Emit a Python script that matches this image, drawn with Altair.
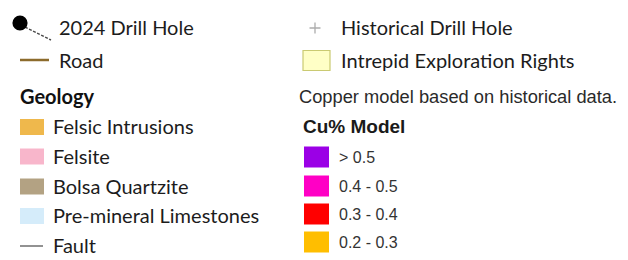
import altair as alt
import pandas as pd

# ---- content ----
top_left_labels = ["2024 Drill Hole", "Road"]
geology_title = "Geology"
geology_labels = ["Felsic Intrusions", "Felsite", "Bolsa Quartzite", "Pre-mineral Limestones", "Fault"]
geology_colors = ["#EFB84C", "#F8B6CB", "#B3A283", "#D5ECFA"]
top_right_labels = ["Historical Drill Hole", "Intrepid Exploration Rights"]
note_text = "Copper model based on historical data."
cu_title = "Cu% Model"
cu_labels = ["> 0.5", "0.4 - 0.5", "0.3 - 0.4", "0.2 - 0.3"]
cu_colors = ["#9B00E6", "#FF00C5", "#FF0000", "#FFBE00"]

# ---- layout (page pixel coordinates) ----
W, H = 612, 250
XS = alt.Scale(domain=[8, 8 + W], range=[0, W], nice=False, zero=False)
YS = alt.Scale(domain=[8, 8 + H], range=[0, H], nice=False, zero=False)

CAL = "Lato"
CAL_SIZE = 20
CAL_CAP = 0.7165 * CAL_SIZE
ARIAL = "Liberation Sans"

left_rows = [127, 156.5, 186.5, 216, 246]
cu_rows = [157, 186, 214, 242]


def X(f="x"):
    return alt.X(f"{f}:Q", scale=XS, axis=None)


def Y(f="y"):
    return alt.Y(f"{f}:Q", scale=YS, axis=None)


# rectangles (swatches)
rect_rows = []
for c, yc in zip(geology_colors, left_rows[:4]):
    rect_rows.append(dict(x=20, x2=44, y=yc - 8, y2=yc + 8, color=c))
for c, yc in zip(cu_colors, cu_rows):
    rect_rows.append(dict(x=304, x2=329, y=yc - 10.5, y2=yc + 10.5, color=c))
rects = alt.Chart(pd.DataFrame(rect_rows)).mark_rect().encode(
    x=X(), x2="x2", y=Y(), y2="y2", color=alt.Color("color:N", scale=None)
)

rights = alt.Chart(pd.DataFrame([dict(x=303, x2=330, y=50.5, y2=70.5)])).mark_rect(
    fill="#FFFFC6", stroke="#CACA72", strokeWidth=1.2
).encode(x=X(), x2="x2", y=Y(), y2="y2")

# lines
road = alt.Chart(pd.DataFrame([dict(x=20, x2=49, y=60, y2=60)])).mark_rule(
    color="#8C6B2C", strokeWidth=2.5
).encode(x=X(), x2="x2", y=Y(), y2="y2")
fault = alt.Chart(pd.DataFrame([dict(x=20, x2=43, y=246, y2=246)])).mark_rule(
    color="#6E6E6E", strokeWidth=1.5
).encode(x=X(), x2="x2", y=Y(), y2="y2")
tail = alt.Chart(pd.DataFrame([dict(x=25, x2=51, y=27, y2=40)])).mark_rule(
    color="#4A4A4A", strokeWidth=1.4, strokeDash=[3, 1.5]
).encode(x=X(), x2="x2", y=Y(), y2="y2")

dot = alt.Chart(pd.DataFrame([dict(x=20, y=23)])).mark_circle(
    color="black", size=230, opacity=1
).encode(x=X(), y=Y())
plus = alt.Chart(pd.DataFrame([dict(x=315, y=28)])).mark_point(
    shape="M-1,0H1M0,-1V1", size=120, filled=False, color="#8A8A8A", strokeWidth=1.3
).encode(x=X(), y=Y())

# texts
reg_rows = []
for lab, yc in zip(top_left_labels, [28, 61]):
    reg_rows.append(dict(x=59, y=yc + CAL_CAP / 2, t=lab))
for lab, yc in zip(geology_labels, left_rows):
    reg_rows.append(dict(x=53, y=yc + CAL_CAP / 2, t=lab))
for lab, yc in zip(top_right_labels, [28, 60.5]):
    reg_rows.append(dict(x=341, y=yc + CAL_CAP / 2, t=lab))
txt_reg = alt.Chart(pd.DataFrame(reg_rows)).mark_text(
    align="left", baseline="alphabetic", font=CAL, fontSize=CAL_SIZE, color="#1C1C1C"
).encode(x=X(), y=Y(), text="t:N")

txt_geo = alt.Chart(pd.DataFrame([dict(x=20, y=97 + CAL_CAP / 2, t=geology_title)])).mark_text(
    align="left", baseline="alphabetic", font=CAL, fontSize=CAL_SIZE, fontWeight="bold", color="#111111"
).encode(x=X(), y=Y(), text="t:N")

txt_note = alt.Chart(pd.DataFrame([dict(x=299, y=96 + 0.716 * 18.3 / 2, t=note_text)])).mark_text(
    align="left", baseline="alphabetic", font=ARIAL, fontSize=18.3, color="#2A2A2A"
).encode(x=X(), y=Y(), text="t:N")

txt_cu_title = alt.Chart(pd.DataFrame([dict(x=303, y=126.5 + 0.716 * 19 / 2, t=cu_title)])).mark_text(
    align="left", baseline="alphabetic", font=ARIAL, fontSize=19, fontWeight="bold", color="#1A1A1A"
).encode(x=X(), y=Y(), text="t:N")

cu_txt_rows = [dict(x=339, y=yc + 0.716 * 16 / 2, t=lab) for lab, yc in zip(cu_labels, cu_rows)]
txt_cu = alt.Chart(pd.DataFrame(cu_txt_rows)).mark_text(
    align="left", baseline="alphabetic", font=ARIAL, fontSize=16, color="#333333"
).encode(x=X(), y=Y(), text="t:N")

chart = alt.layer(
    rects, rights, road, fault, tail, dot, plus,
    txt_reg, txt_geo, txt_note, txt_cu_title, txt_cu,
).properties(
    width=W, height=H, padding=0, autosize=alt.AutoSizeParams(type="none"),
    background="white",
).configure_view(stroke=None)

chart.save("out.html", embed_options={"renderer": "svg", "actions": False})
